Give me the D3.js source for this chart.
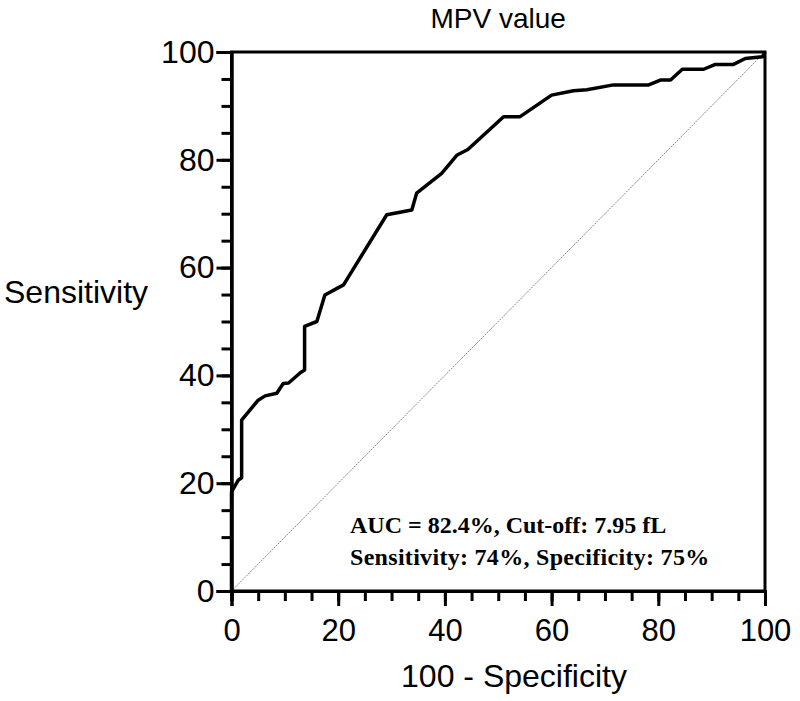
<!DOCTYPE html>
<html><head><meta charset="utf-8">
<script src="https://cdn.jsdelivr.net/npm/d3@7"></script>
<style>body{margin:0;background:#fff}svg{display:block}</style>
</head><body>
<script>
const title = "MPV value";
const xLabel = "100 - Specificity";
const yLabel = "Sensitivity";
const majorTicks = [0, 20, 40, 60, 80, 100];
const minorTicks = d3.range(0, 101, 5);
const fpr = [0, 0, 1.3, 1.9, 1.9, 5.0, 6.3, 8.5, 9.1, 9.7, 10.7, 12.9, 13.7, 13.7, 16.0, 17.5, 21.0, 29.1, 33.8, 34.7, 39.4, 42.3, 44.3, 51.0, 54.1, 60.0, 64.1, 66.6, 71.6, 78.2, 80.4, 82.3, 84.5, 88.5, 90.7, 94.1, 96.3, 99.5, 100];
const tpr = [0, 18.4, 20.6, 21.0, 31.7, 35.4, 36.2, 36.7, 37.6, 38.5, 38.6, 40.5, 41.0, 49.1, 50.0, 54.9, 56.8, 69.8, 70.7, 73.8, 77.5, 80.9, 81.9, 88.0, 88.0, 92.0, 92.8, 93.0, 93.9, 93.9, 94.8, 94.8, 96.8, 96.8, 97.7, 97.7, 98.8, 99.1, 100];
const annotLines = ["AUC = 82.4%, Cut-off: 7.95 fL", "Sensitivity: 74%, Specificity: 75%"];

const W = 800, H = 701;
const m = {left: 231.5, right: 35, top: 52, bottom: 110};
const svg = d3.select("body").append("svg").attr("width", W).attr("height", H);
const x = d3.scaleLinear().domain([0, 100]).range([m.left, W - m.right]);
const y = d3.scaleLinear().domain([0, 100]).range([H - m.bottom, m.top]);
const font = "Arial, 'Liberation Sans', sans-serif";

// diagonal
svg.append("line")
  .attr("x1", x(0)).attr("y1", y(0)).attr("x2", x(100)).attr("y2", y(100))
  .attr("stroke", "#888").attr("stroke-width", 1).attr("stroke-dasharray", "2,1");

// frame
svg.append("rect").attr("x", x(0)).attr("y", y(100))
  .attr("width", x(100) - x(0)).attr("height", y(0) - y(100))
  .attr("fill", "none").attr("stroke", "#000").attr("stroke-width", 3);

// axes
const xAxisMinor = d3.axisBottom(x).tickValues(minorTicks).tickSize(10).tickFormat("");
const xAxis = d3.axisBottom(x).tickValues(majorTicks).tickSize(15).tickPadding(13);
const yAxisMinor = d3.axisLeft(y).tickValues(minorTicks).tickSize(10).tickFormat("");
const yAxis = d3.axisLeft(y).tickValues(majorTicks).tickSize(15).tickPadding(2);
function style(g, fs){
  g.select(".domain").attr("stroke", "#000").attr("stroke-width", 3);
  g.selectAll(".tick line").attr("stroke", "#000").attr("stroke-width", 3);
  g.selectAll(".tick text").attr("fill", "#000").style("font-family", font).style("font-size", fs + "px");
}
svg.append("g").attr("transform", `translate(0,${y(0)})`).call(xAxisMinor).call(style, 31);
svg.append("g").attr("transform", `translate(0,${y(0)})`).call(xAxis).call(style, 31);
svg.append("g").attr("transform", `translate(${x(0)},0)`).call(yAxisMinor).call(style, 32);
svg.append("g").attr("transform", `translate(${x(0)},0)`).call(yAxis).call(style, 32);

// curve
const pts = fpr.map((d, i) => [d, tpr[i]]);
svg.append("path").datum(pts)
  .attr("d", d3.line().x(d => x(d[0])).y(d => y(d[1])))
  .attr("fill", "none").attr("stroke", "#000").attr("stroke-width", 3.5)
  .attr("stroke-linejoin", "round");

// titles
svg.append("text").attr("x", (x(0) + x(100)) / 2).attr("y", 28).attr("text-anchor", "middle")
  .style("font-family", font).style("font-size", "28px").text(title);
svg.append("text").attr("x", 514).attr("y", 687).attr("text-anchor", "middle")
  .style("font-family", font).style("font-size", "32px").text(xLabel);
svg.append("text").attr("x", 4).attr("y", 303).attr("text-anchor", "start")
  .style("font-family", font).style("font-size", "32px").text(yLabel);

// annotation
svg.append("g").selectAll("text").data(annotLines).join("text")
  .attr("x", 350).attr("y", (d, i) => 533 + i * 32)
  .style("font-family", "'Times New Roman', 'Liberation Serif', serif")
  .style("font-weight", "bold").style("font-size", "24px")
  .style("letter-spacing", (d, i) => i === 1 ? "0.3px" : "0px").text(d => d);
</script>
</body></html>
